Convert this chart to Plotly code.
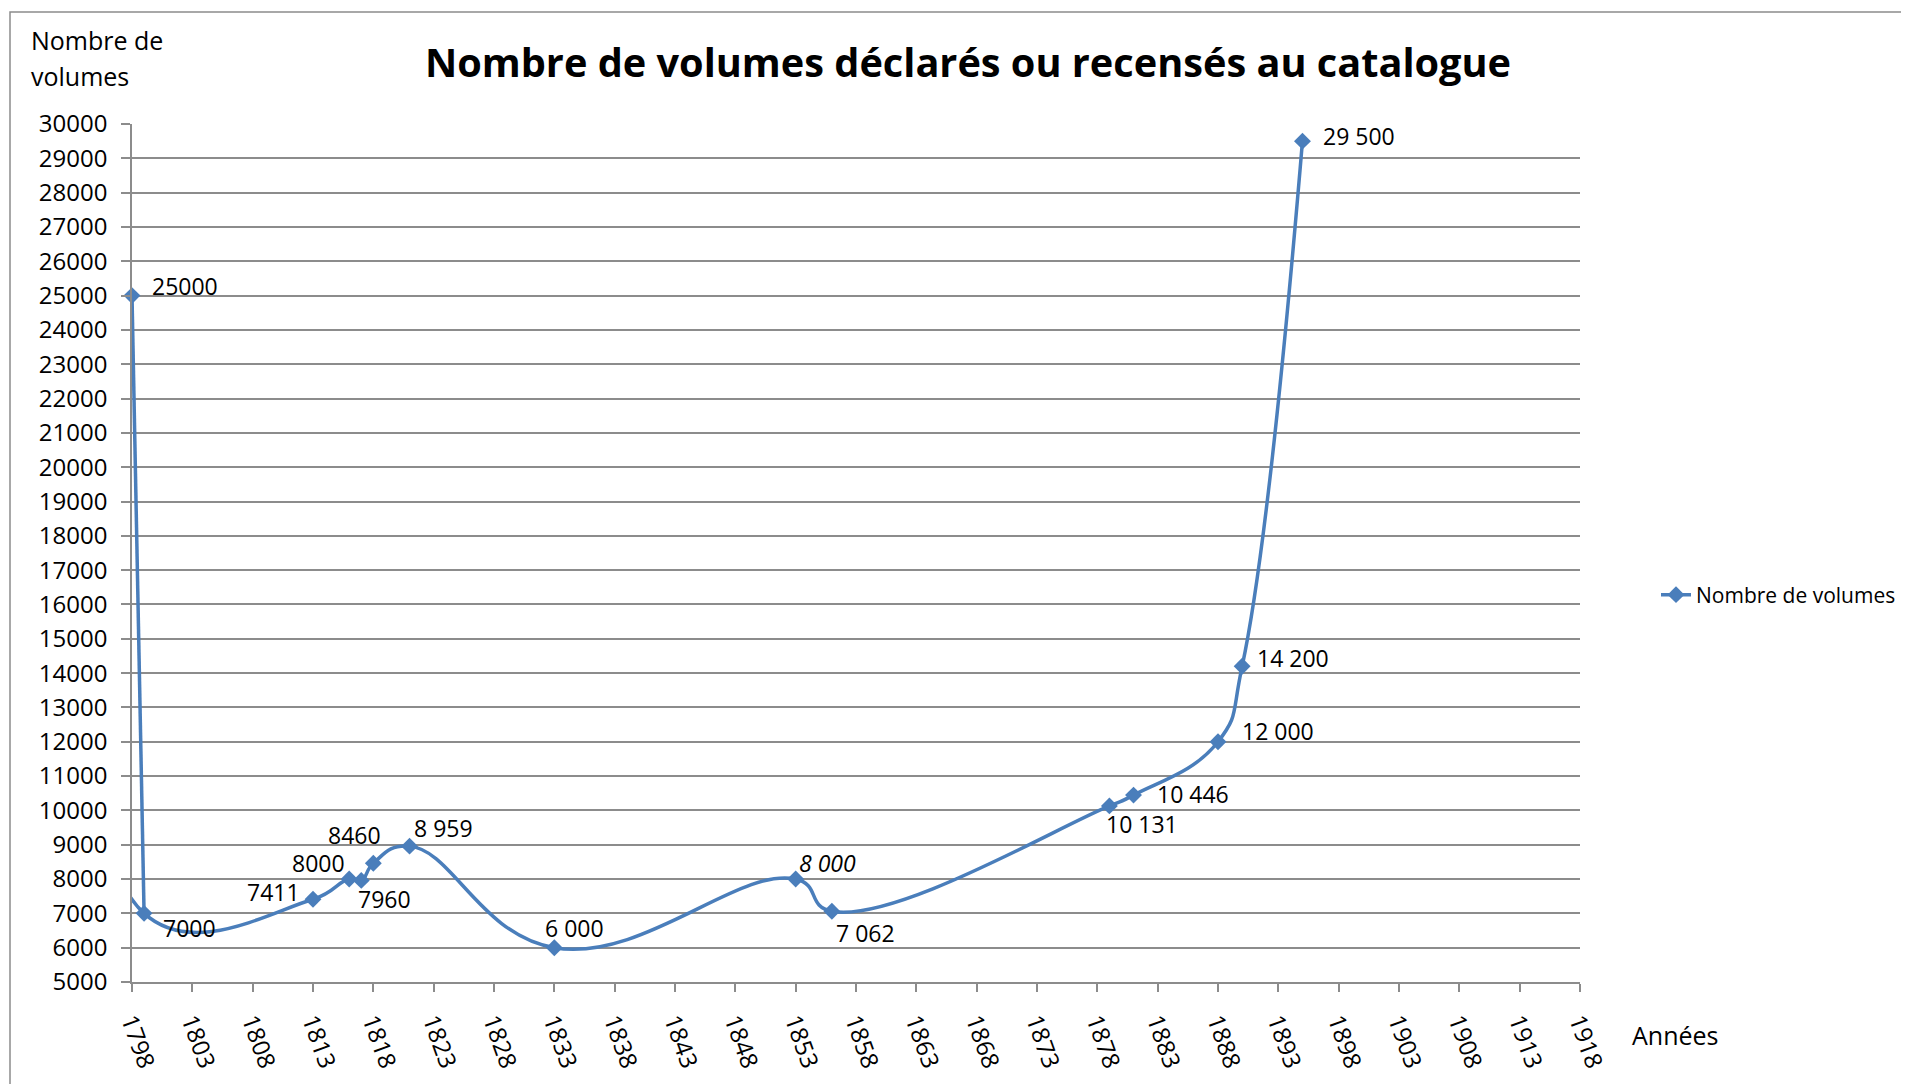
import plotly.graph_objects as go

# ---- data ----
years = [1798, 1799, 1813, 1816, 1817, 1818, 1821, 1833, 1853, 1856, 1879, 1881, 1888, 1890, 1895]
volumes = [25000, 7000, 7411, 8000, 7960, 8460, 8959, 6000, 8000, 7062, 10131, 10446, 12000, 14200, 29500]
labels = ["25000", "7000", "7411", "8000", "7960", "8460", "8 959", "6 000", "<i>8 000</i>",
          "7 062", "10 131", "10 446", "12 000", "14 200", "29 500"]
x_ticks = list(range(1798, 1919, 5))
y_ticks = list(range(5000, 30001, 1000))

# ---- styling for labels (anchor, xshift, yshift) ----
label_style = [
    ("left", 18, 10), ("left", 17, -15), ("right", -11, 7), ("right", -2, 16),
    ("left", -5, -19), ("center", -19, 28), ("left", 2, 18), ("left", -11, 20),
    ("left", 1, 16), ("left", 2, -22), ("left", -5, -18), ("left", 21, 1),
    ("left", 22, 11), ("left", 13, 8), ("left", 19, 5),
]

FONT = "Open Sans, Lato, DejaVu Sans, sans-serif"
BLUE = "#4A7EBB"
GRID = "#8C8C8C"

OFF = 8  # page body margin
W, H = 1909 - 2 * OFF, 1092 - 2 * OFF
L, R, T, B = 132 - OFF, 1580 - OFF, 124 - OFF, 982 - OFF


def px_x(p):  # window pixel -> paper x
    return (p - OFF - L) / (R - L)


def px_y(p):  # window pixel -> paper y
    return (B - (p - OFF)) / (B - T)


fig = go.Figure()
# first (near vertical) drop drawn straight so it stays on the axis
fig.add_trace(go.Scatter(
    x=years[:2], y=volumes[:2], mode="lines", showlegend=False, hoverinfo="skip",
    line=dict(color=BLUE, width=3.5),
))
fig.add_trace(go.Scatter(
    x=years, y=volumes, mode="lines+markers", name="Nombre de volumes",
    line=dict(color=BLUE, width=3.5, shape="spline", smoothing=1.3),
    marker=dict(symbol="diamond", size=13, color=BLUE),
    cliponaxis=False,
))

annotations = []
for xv, yv, txt, (anc, dx, dy) in zip(years, volumes, labels, label_style):
    annotations.append(dict(x=xv, y=yv, xref="x", yref="y", text=txt, showarrow=False,
                            xanchor=anc, yanchor="middle", xshift=dx, yshift=dy,
                            font=dict(family=FONT, size=23, color="black")))

annotations += [
    dict(x=px_x(29), y=px_y(40), xref="paper", yref="paper", text="Nombre de", showarrow=False,
         xanchor="left", yanchor="middle", font=dict(family=FONT, size=25, color="black")),
    dict(x=px_x(29), y=px_y(76), xref="paper", yref="paper", text="volumes", showarrow=False,
         xanchor="left", yanchor="middle", font=dict(family=FONT, size=25, color="black")),
    dict(x=px_x(1630), y=px_y(1035), xref="paper", yref="paper", text="Années", showarrow=False,
         xanchor="left", yanchor="middle", font=dict(family=FONT, size=25, color="black")),
]

fig.update_layout(
    width=W, height=H,
    margin=dict(l=L, r=W - R, t=T, b=H - B, autoexpand=False),
    paper_bgcolor="white", plot_bgcolor="white",
    title=dict(text="<b>Nombre de volumes déclarés ou recensés au catalogue</b>",
               x=(968 - OFF) / W, xanchor="center", y=1 - (63 - OFF) / H, yanchor="middle",
               font=dict(family=FONT, size=39.7, color="black")),
    xaxis=dict(range=[1798, 1918], tickvals=x_ticks, ticktext=[str(v) for v in x_ticks],
               tickangle=70, showgrid=False, zeroline=False,
               showline=True, linecolor=GRID, linewidth=1.5,
               ticks="outside", ticklen=8, tickcolor=GRID, tickwidth=1.5,
               ticklabelstandoff=6, automargin=False,
               tickfont=dict(family=FONT, size=24, color="black")),
    yaxis=dict(range=[5000, 30000], tickvals=y_ticks, ticktext=[str(v) for v in y_ticks],
               showgrid=True, gridcolor=GRID, gridwidth=1.5, zeroline=False,
               showline=True, linecolor=GRID, linewidth=1.5,
               ticks="outside", ticklen=9, tickcolor=GRID, tickwidth=1.5,
               ticklabelstandoff=9, automargin=False,
               tickfont=dict(family=FONT, size=24, color="black")),
    showlegend=True,
    legend=dict(x=px_x(1656), y=px_y(595), xanchor="left", yanchor="middle",
                font=dict(family=FONT, size=21, color="black"), bgcolor="rgba(0,0,0,0)"),
    annotations=annotations,
    shapes=[dict(type="rect", xref="paper", yref="paper", x0=px_x(10), y0=px_y(1300),
                 x1=px_x(2100), y1=px_y(12), line=dict(color="#8C8C8C", width=1.5),
                 fillcolor="rgba(0,0,0,0)", layer="below")],
)

fig.write_html("out.html")
